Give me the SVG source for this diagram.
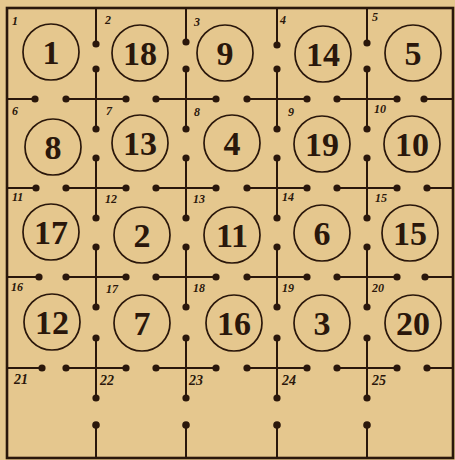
<svg xmlns="http://www.w3.org/2000/svg" width="455" height="460" viewBox="0 0 455 460">
<style>
.bg{fill:#e5c78e}
.frame{fill:none;stroke:#2a170b;stroke-width:2.6}
.c{fill:none;stroke:#2a170b;stroke-width:1.7}
.n{font-family:"Liberation Serif",serif;font-weight:bold;font-size:34px;fill:#2a170b;text-anchor:middle}
.l{font-family:"Liberation Serif",serif;font-weight:bold;font-style:italic;font-size:12px;fill:#2a170b}
.l2{font-family:"Liberation Serif",serif;font-weight:bold;font-style:italic;font-size:14px;fill:#2a170b}
.ln{stroke:#2a170b;stroke-width:2;fill:none}
.d{fill:#2a170b}
</style>
<defs>
<g id="cross">
<path class="ln" d="M0,-30V30M-30,0H30"/>
<circle class="d" cx="0" cy="-30" r="3.6"/>
<circle class="d" cx="0" cy="30" r="3.6"/>
<circle class="d" cx="-30" cy="0" r="3.6"/>
<circle class="d" cx="30" cy="0" r="3.6"/>
</g>
</defs>
<rect class="bg" x="0" y="0" width="455" height="460"/>
<rect class="frame" x="7" y="8" width="446" height="450"/>

<g id="circles">
<g id="n1"><circle class="c" cx="51" cy="52" r="28"/><text class="n" x="51" y="64">1</text></g>
<g id="n18"><circle class="c" cx="140" cy="53" r="28"/><text class="n" x="140" y="65">18</text></g>
<g id="n9"><circle class="c" cx="225" cy="53" r="28"/><text class="n" x="225" y="65">9</text></g>
<g id="n14"><circle class="c" cx="323" cy="54" r="28"/><text class="n" x="323" y="66">14</text></g>
<g id="n5"><circle class="c" cx="413" cy="53" r="28"/><text class="n" x="413" y="65">5</text></g>
<g id="n8"><circle class="c" cx="53" cy="147" r="28"/><text class="n" x="53" y="159">8</text></g>
<g id="n13"><circle class="c" cx="140" cy="143" r="28"/><text class="n" x="140" y="155">13</text></g>
<g id="n4"><circle class="c" cx="232" cy="143" r="28"/><text class="n" x="232" y="155">4</text></g>
<g id="n19"><circle class="c" cx="322" cy="144" r="28"/><text class="n" x="322" y="156">19</text></g>
<g id="n10"><circle class="c" cx="412" cy="144" r="28"/><text class="n" x="412" y="156">10</text></g>
<g id="n17"><circle class="c" cx="51" cy="232" r="28"/><text class="n" x="51" y="244">17</text></g>
<g id="n2"><circle class="c" cx="142" cy="235" r="28"/><text class="n" x="142" y="247">2</text></g>
<g id="n11"><circle class="c" cx="232" cy="235" r="28"/><text class="n" x="232" y="247">11</text></g>
<g id="n6"><circle class="c" cx="322" cy="233" r="28"/><text class="n" x="322" y="245">6</text></g>
<g id="n15"><circle class="c" cx="410" cy="233" r="28"/><text class="n" x="410" y="245">15</text></g>
<g id="n12"><circle class="c" cx="52" cy="322" r="28"/><text class="n" x="52" y="334">12</text></g>
<g id="n7"><circle class="c" cx="142" cy="323" r="28"/><text class="n" x="142" y="335">7</text></g>
<g id="n16"><circle class="c" cx="234" cy="323" r="28"/><text class="n" x="234" y="335">16</text></g>
<g id="n3"><circle class="c" cx="322" cy="323" r="28"/><text class="n" x="322" y="335">3</text></g>
<g id="n20"><circle class="c" cx="413" cy="323" r="28"/><text class="n" x="413" y="335">20</text></g>
</g>

<g id="connectors">
<use href="#cross" x="96" y="99"/>
<use href="#cross" x="186" y="99"/>
<use href="#cross" x="277" y="99"/>
<use href="#cross" x="367" y="99"/>
<use href="#cross" x="96" y="188"/>
<use href="#cross" x="186" y="188"/>
<use href="#cross" x="277" y="188"/>
<use href="#cross" x="367" y="188"/>
<use href="#cross" x="96" y="277"/>
<use href="#cross" x="186" y="277"/>
<use href="#cross" x="277" y="277"/>
<use href="#cross" x="367" y="277"/>
<use href="#cross" x="96" y="368"/>
<use href="#cross" x="186" y="368"/>
<use href="#cross" x="277" y="368"/>
<use href="#cross" x="367" y="368"/>
<path class="ln" d="M96,8V44M186,8V42M277,8V45M367,8V43"/>
<circle class="d" cx="96" cy="44" r="3.6"/><circle class="d" cx="186" cy="42" r="3.6"/><circle class="d" cx="277" cy="45" r="3.6"/><circle class="d" cx="367" cy="43" r="3.6"/>
<path class="ln" d="M96,458V425M186,458V425M277,458V425M367,458V425"/>
<circle class="d" cx="96" cy="425" r="3.8"/><circle class="d" cx="186" cy="425" r="3.8"/><circle class="d" cx="277" cy="425" r="3.8"/><circle class="d" cx="367" cy="425" r="3.8"/>
<path class="ln" d="M7,99H35M7,188H36M7,277H39M7,368H42"/>
<circle class="d" cx="35" cy="99" r="3.6"/><circle class="d" cx="36" cy="188" r="3.6"/><circle class="d" cx="39" cy="277" r="3.6"/><circle class="d" cx="42" cy="368" r="3.6"/>
<path class="ln" d="M453,99H424M453,188H427M453,277H425M453,368H427"/>
<circle class="d" cx="424" cy="99" r="3.6"/><circle class="d" cx="427" cy="188" r="3.6"/><circle class="d" cx="425" cy="277" r="3.6"/><circle class="d" cx="427" cy="368" r="3.6"/>
</g>

<g id="labels">
<text class="l" x="12" y="25">1</text>
<text class="l" x="105" y="24">2</text>
<text class="l" x="194" y="26">3</text>
<text class="l" x="280" y="24">4</text>
<text class="l" x="372" y="21">5</text>
<text class="l" x="12" y="115">6</text>
<text class="l" x="106" y="115">7</text>
<text class="l" x="194" y="116">8</text>
<text class="l" x="288" y="116">9</text>
<text class="l" x="374" y="113">10</text>
<text class="l" x="12" y="201">11</text>
<text class="l" x="105" y="203">12</text>
<text class="l" x="193" y="203">13</text>
<text class="l" x="282" y="201">14</text>
<text class="l" x="375" y="202">15</text>
<text class="l" x="11" y="291">16</text>
<text class="l" x="106" y="293">17</text>
<text class="l" x="193" y="292">18</text>
<text class="l" x="282" y="292">19</text>
<text class="l" x="372" y="292">20</text>
<text class="l2" x="14" y="384">21</text>
<text class="l2" x="100" y="385">22</text>
<text class="l2" x="189" y="385">23</text>
<text class="l2" x="282" y="385">24</text>
<text class="l2" x="372" y="385">25</text>
</g>
</svg>
